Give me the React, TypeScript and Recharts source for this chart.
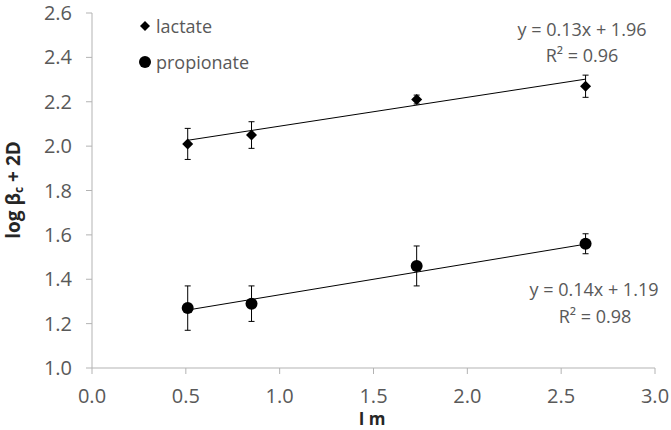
import React from "react";
import { ScatterChart, Scatter, XAxis, YAxis, ErrorBar } from "recharts";

const xValues = [0.51, 0.85, 1.73, 2.63];
const lactateValues = [2.01, 2.05, 2.21, 2.27];
const lactateErrors = [0.07, 0.06, 0.02, 0.05];
const propionateValues = [1.27, 1.29, 1.46, 1.56];
const propionateErrors = [0.1, 0.08, 0.09, 0.045];

const fitSlopes = [0.13, 0.14];
const fitIntercepts = [1.96, 1.19];
const fitLabels = [
  ["y = 0.13x + 1.96", "R² = 0.96"],
  ["y = 0.14x + 1.19", "R² = 0.98"],
];

const xTicks = [0, 0.5, 1, 1.5, 2, 2.5, 3];
const yTicks = [1.0, 1.2, 1.4, 1.6, 1.8, 2.0, 2.2, 2.4, 2.6];

const FONT = "'Open Sans', sans-serif";
const GREY = "#595959";
const AXIS = "#b3b3b3";

const lactateData = xValues.map((x, i) => ({ x, y: lactateValues[i], err: lactateErrors[i] }));
const propionateData = xValues.map((x, i) => ({ x, y: propionateValues[i], err: propionateErrors[i] }));

const fitLine = (k: number) => {
  const lo = Math.min(...xValues);
  const hi = Math.max(...xValues);
  return [lo, hi].map((x) => ({ x, y: fitSlopes[k] * x + fitIntercepts[k] }));
};

const Diamond = (props: any) => {
  const { cx, cy } = props;
  const r = 5.5;
  return <polygon points={`${cx},${cy - r} ${cx + r},${cy} ${cx},${cy + r} ${cx - r},${cy}`} fill="#000" />;
};

const Dot = (props: any) => <circle cx={props.cx} cy={props.cy} r={6} fill="#000" />;

const NoShape = () => <g />;

export default function App() {
  return (
    <div style={{ position: "absolute", left: 0, top: 0, width: 671, height: 430, background: "#fff" }}>
      <ScatterChart width={671} height={430} margin={{ top: 13, right: 16, bottom: 0, left: 0 }}>
        <XAxis
          type="number"
          dataKey="x"
          domain={[0, 3]}
          ticks={xTicks}
          tickFormatter={(v: number) => v.toFixed(1)}
          height={62}
          stroke={AXIS}
          tickSize={6}
          tickMargin={15}
          tick={{ fill: GREY, fontSize: 20, fontFamily: FONT }}
        />
        <YAxis
          type="number"
          dataKey="y"
          domain={[1, 2.6]}
          ticks={yTicks}
          tickFormatter={(v: number) => v.toFixed(1)}
          width={92}
          stroke={AXIS}
          tickSize={6}
          tickMargin={14}
          tick={{ fill: GREY, fontSize: 20, fontFamily: FONT }}
        />
        <Scatter data={fitLine(0)} line={{ stroke: "#000", strokeWidth: 1 }} shape={NoShape} isAnimationActive={false} />
        <Scatter data={fitLine(1)} line={{ stroke: "#000", strokeWidth: 1 }} shape={NoShape} isAnimationActive={false} />
        <Scatter name="lactate" data={lactateData} shape={Diamond} isAnimationActive={false}>
          <ErrorBar dataKey="err" direction="y" width={3} stroke="#000" strokeWidth={1} isAnimationActive={false} />
        </Scatter>
        <Scatter name="propionate" data={propionateData} shape={Dot} isAnimationActive={false}>
          <ErrorBar dataKey="err" direction="y" width={3} stroke="#000" strokeWidth={1} isAnimationActive={false} />
        </Scatter>
      </ScatterChart>
      <svg width={671} height={430} style={{ position: "absolute", left: 0, top: 0, pointerEvents: "none" }}>
        {/* legend */}
        <polygon points="145,21 150,26 145,31 140,26" fill="#000" />
        <text x={156} y={26} dominantBaseline="central" fontSize={18} fontFamily={FONT} fill={GREY}>lactate</text>
        <circle cx={145} cy={62} r={6} fill="#000" />
        <text x={156} y={62} dominantBaseline="central" fontSize={18} fontFamily={FONT} fill={GREY}>propionate</text>
        {/* fit equations */}
        <text x={582} y={29} textAnchor="middle" dominantBaseline="central" fontSize={18} fontFamily={FONT} fill={GREY}>{fitLabels[0][0]}</text>
        <text x={582} y={55} textAnchor="middle" dominantBaseline="central" fontSize={18} fontFamily={FONT} fill={GREY}>{fitLabels[0][1]}</text>
        <text x={594} y={289} textAnchor="middle" dominantBaseline="central" fontSize={18} fontFamily={FONT} fill={GREY}>{fitLabels[1][0]}</text>
        <text x={595} y={316} textAnchor="middle" dominantBaseline="central" fontSize={18} fontFamily={FONT} fill={GREY}>{fitLabels[1][1]}</text>
        {/* axis titles */}
        <text
          transform="translate(13,190) rotate(-90)"
          textAnchor="middle"
          dominantBaseline="central"
          fontSize={19}
          fontWeight="bold"
          fontFamily={FONT}
          fill="#262626"
        >
          log β<tspan fontSize={12} dy={5}>c</tspan><tspan dy={-5}> + 2D</tspan>
        </text>
        <text x={372} y={425} textAnchor="middle" fontSize={17} fontWeight="bold" fontFamily={FONT} fill="#262626">I m</text>
      </svg>
    </div>
  );
}
